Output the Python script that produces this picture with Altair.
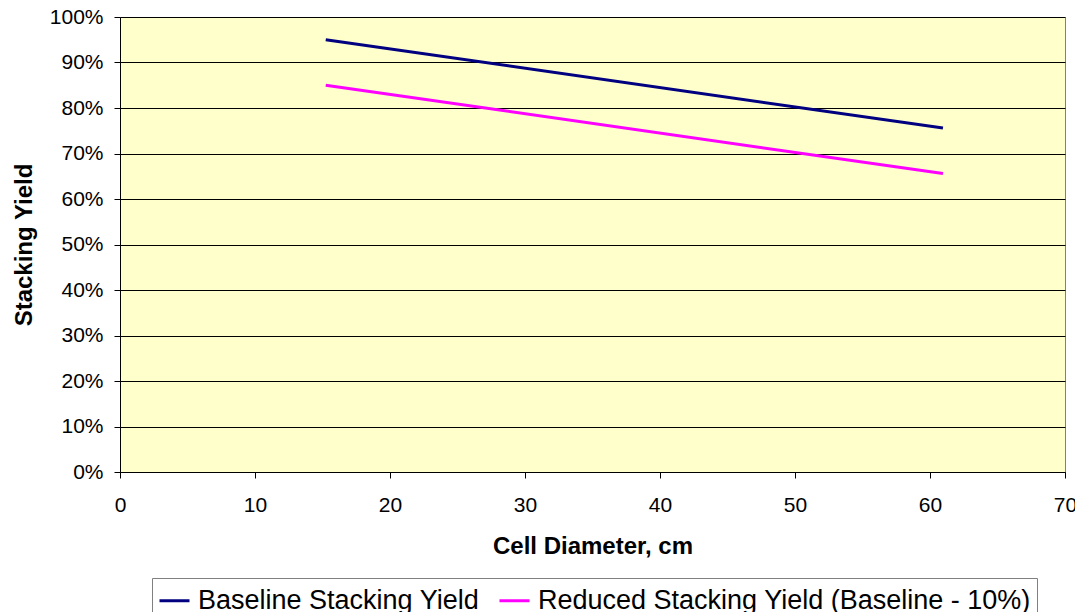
import altair as alt
import pandas as pd

diameter_cm = [15.24, 60.96]
baseline_yield = [0.95, 0.756]
reduced_yield = [0.85, 0.656]
series_names = ["Baseline Stacking Yield", "Reduced Stacking Yield (Baseline - 10%)"]
series_colors = ["#000080", "#FF00FF"]

rows = []
for x, y in zip(diameter_cm, baseline_yield):
    rows.append({"d": x, "y": y, "s": series_names[0]})
for x, y in zip(diameter_cm, reduced_yield):
    rows.append({"d": x, "y": y, "s": series_names[1]})
df = pd.DataFrame(rows)

FONT = "Liberation Sans"

chart = alt.Chart(df).mark_line(strokeWidth=3, clip=False).encode(
    x=alt.X("d:Q", scale=alt.Scale(domain=[0, 70], nice=False),
            axis=alt.Axis(values=[0, 10, 20, 30, 40, 50, 60, 70], title="Cell Diameter, cm",
                          grid=False, labelFlush=False, labelOverlap=False,
                          labelPadding=16, titleY=81, titleBaseline="alphabetic")),
    y=alt.Y("y:Q", scale=alt.Scale(domain=[0, 1], nice=False),
            axis=alt.Axis(values=[i / 10 for i in range(11)], format=".0%", title="Stacking Yield",
                          grid=True, labelPadding=11, titleX=-89, titleBaseline="alphabetic",
                          labelFlush=False, labelOverlap=False)),
    color=alt.Color("s:N", sort=series_names,
                    scale=alt.Scale(domain=series_names, range=series_colors),
                    legend=alt.Legend(title=None, orient="none", legendX=32, legendY=561,
                                      direction="horizontal", symbolType="stroke",
                                      symbolSize=900, symbolStrokeWidth=3,
                                      labelFontSize=27, labelFont=FONT, labelColor="#000000",
                                      labelOffset=7, columnPadding=13, padding=6,
                                      strokeColor="#808080", fillColor="#FFFFFF",
                                      labelLimit=1000)),
).properties(
    width=945, height=455,
    padding={"left": 112, "top": 9, "right": 10, "bottom": 140},
    autosize=alt.AutoSizeParams(type="none"),
    background="#FFFFFF",
).configure_view(
    fill="#FFFFCC", stroke="#808080", strokeWidth=1,
).configure_axis(
    labelFont=FONT, labelFontSize=21, labelColor="#000000",
    titleFont=FONT, titleFontSize=24, titleFontWeight="bold", titleColor="#000000",
    domainColor="#000000", domainWidth=1, tickColor="#000000", tickSize=6, tickWidth=1,
    gridColor="#000000", gridWidth=1, gridOpacity=1,
)

chart.save("out.html", embed_options={"renderer": "svg", "actions": False})
